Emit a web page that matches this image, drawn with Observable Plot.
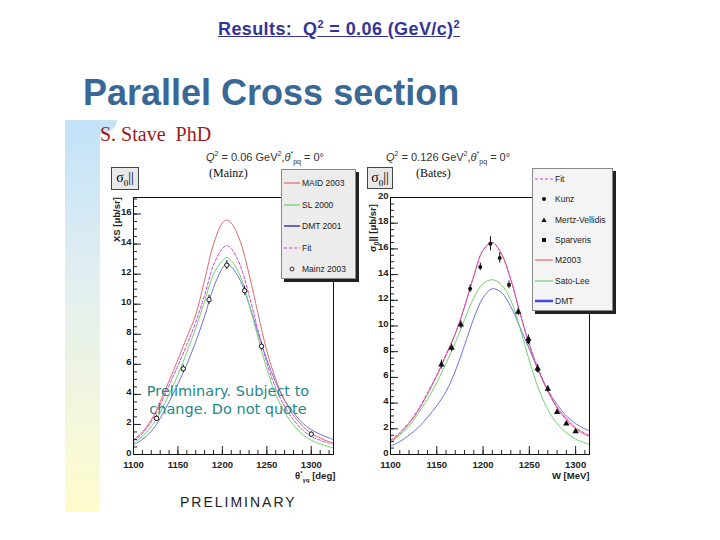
<!DOCTYPE html>
<html><head><meta charset="utf-8">
<script src="https://cdn.jsdelivr.net/npm/d3@7"></script>
<script src="https://cdn.jsdelivr.net/npm/@observablehq/plot@0.6"></script>
<style>
body{margin:0;background:#fff;}
#slide{position:relative;width:720px;height:540px;overflow:hidden;font-family:"Liberation Sans",Arial,sans-serif;background:#fff;}
.abs{position:absolute;white-space:nowrap;line-height:1;}
.leg{position:absolute;background:#ececec;border:1px solid #888;box-shadow:3px 3px 0 #222;}
.row{position:absolute;left:0;font-size:8.5px;color:#222;display:flex;align-items:center;}
.row svg{margin-right:2px;}
.sig{position:absolute;background:#e8e8e8;border:1px solid #444;font-family:"Liberation Serif",serif;font-size:14px;text-align:center;line-height:20px;}
.plotbox{position:absolute;}
</style></head><body><div id="slide">
<div class="abs" style="left:65px;top:120px;width:35px;height:392px;background:linear-gradient(#c2e2f8,#e4f0ef 45%,#fffccc);"></div>
<div class="abs" style="left:99px;top:120px;width:18px;height:14px;background:#c4e3f8;border-bottom-right-radius:100% 100%;"></div>
<div class="abs" style="left:218px;top:19px;font-size:18px;font-weight:bold;letter-spacing:0.4px;color:#333399;text-decoration:underline;">Results:&nbsp; Q<sup style="font-size:11px">2</sup> = 0.06 (GeV/c)<sup style="font-size:11px">2</sup></div>
<div class="abs" style="left:83px;top:75px;font-size:36px;font-weight:bold;color:#3a6896;">Parallel Cross section</div>
<div class="abs" style="left:100px;top:124px;font-size:20px;font-family:'Liberation Serif',serif;color:#9b1b1b;">S. Stave&nbsp; PhD</div>
<div class="abs" style="left:206px;top:150px;font-size:11px;color:#333;"><i>Q</i><sup style="font-size:7px">2</sup> = 0.06 GeV<sup style="font-size:7px">2</sup>,<i>θ</i><sup style="font-size:7px">*</sup><sub style="font-size:7px">pq</sub> = 0°</div>
<div class="abs" style="left:386px;top:150px;font-size:11px;color:#333;"><i>Q</i><sup style="font-size:7px">2</sup> = 0.126 GeV<sup style="font-size:7px">2</sup>,<i>θ</i><sup style="font-size:7px">*</sup><sub style="font-size:7px">pq</sub> = 0°</div>
<div class="abs" style="left:209px;top:167px;font-size:12px;font-family:'Liberation Serif',serif;color:#111;">(Mainz)</div>
<div class="abs" style="left:416px;top:167px;font-size:12px;font-family:'Liberation Serif',serif;color:#111;">(Bates)</div>
<div class="sig" style="left:111px;top:167px;width:26px;height:21px;">σ<sub style="font-size:9px">0</sub>||</div>
<div class="sig" style="left:367px;top:167px;width:24px;height:20px;">σ<sub style="font-size:9px">0</sub>||</div>
<div id="left" class="plotbox" style="left:100px;top:190px;"></div>
<div id="right" class="plotbox" style="left:357px;top:190px;"></div>
<div class="abs" style="left:112px;top:242px;font-size:9.5px;font-weight:bold;transform:rotate(-90deg);transform-origin:0 0;color:#222;">XS [μb/sr]</div>
<div class="abs" style="left:368px;top:252px;font-size:9.5px;font-weight:bold;transform:rotate(-90deg);transform-origin:0 0;color:#222;">σ<sub style="font-size:7px">0</sub>|| [μb/sr]</div>
<div class="abs" style="left:295px;top:470px;font-size:9.5px;font-weight:bold;color:#222;">θ<sup style="font-size:6px">*</sup><sub style="font-size:6px">γq</sub> [deg]</div>
<div class="abs" style="left:552px;top:471px;font-size:9.5px;font-weight:bold;color:#222;">W [MeV]</div>
<div class="abs" style="left:118px;top:382px;width:220px;text-align:center;font-size:14.5px;line-height:18px;font-family:'DejaVu Sans',sans-serif;color:#1f8888;">Preliminary. Subject to<br>change. Do not quote</div>
<div class="abs" style="left:180px;top:495px;font-size:14px;letter-spacing:2px;color:#222;">PRELIMINARY</div>
<div id="legL" class="leg" style="left:281px;top:169px;width:73px;height:108px;"></div>
<div id="legR" class="leg" style="left:532px;top:168px;width:79px;height:141px;background:#f4f4f4;"></div>
</div>
<script>
// ---- Left panel (Mainz), Q2 = 0.06 ----
const leftW = [1100,1110,1120,1130,1140,1150,1160,1170,1180,1190,1200,1205,1210,1220,1230,1240,1250,1260,1270,1280,1290,1300,1310,1320,1325];
const maid2003 = [0.95,1.5,2.3,3.5,4.9,6.3,7.8,9.3,11.6,14.0,15.4,15.6,15.4,14.2,12.0,9.4,6.9,5.0,3.6,2.6,1.9,1.4,1.1,0.85,0.78];
const sl2000 = [0.75,1.2,1.85,2.8,4.0,5.3,6.8,8.4,10.2,12.0,12.9,13.1,12.9,11.9,10.0,7.8,5.7,4.0,2.8,1.95,1.35,0.95,0.7,0.52,0.45];
const dmt2001 = [0.65,1.0,1.55,2.4,3.5,4.7,6.0,7.5,9.2,11.1,12.4,12.7,12.5,11.6,10.0,8.1,6.3,4.8,3.6,2.8,2.1,1.65,1.35,1.1,1.0];
const fitLeft = [0.9,1.4,2.2,3.3,4.6,5.9,7.3,8.8,10.6,12.6,13.7,13.9,13.7,12.6,10.6,8.3,6.1,4.4,3.2,2.3,1.65,1.2,0.95,0.75,0.68];
const mainzW = [1126,1156,1185,1205,1225,1244,1300];
const mainzXS = [2.4,5.7,10.3,12.6,10.9,7.2,1.35];
const mainzErr = [0.2,0.25,0.3,0.3,0.3,0.25,0.15];
const leftXTicks = [1100,1150,1200,1250,1300];
const leftYTicks = [0,2,4,6,8,10,12,14,16];

// ---- Right panel (Bates), Q2 = 0.126 ----
const rightW = [1100,1110,1120,1130,1140,1150,1160,1170,1180,1190,1200,1210,1220,1230,1240,1250,1260,1270,1280,1290,1300,1310,1315];
const fitRight = [1.1,1.7,2.5,3.5,4.8,6.2,7.8,9.4,11.5,13.9,15.9,16.5,15.6,13.6,11.0,8.6,6.6,5.0,3.7,2.8,2.1,1.65,1.5];
const m2003 = [1.0,1.6,2.4,3.4,4.7,6.1,7.7,9.4,11.5,13.9,15.9,16.5,15.6,13.6,11.0,8.5,6.5,4.9,3.6,2.7,2.0,1.55,1.4];
const satoLee = [0.95,1.5,2.2,3.2,4.3,5.6,7.1,8.7,10.5,12.2,13.3,13.6,13.2,12.0,9.8,7.3,5.1,3.5,2.4,1.7,1.2,0.9,0.78];
const dmtRight = [0.65,1.0,1.5,2.1,2.9,3.8,4.9,6.5,8.5,10.6,12.2,12.9,12.6,11.5,9.9,8.2,6.5,5.0,3.9,3.0,2.4,2.0,1.85];
const kunzW = [1186,1197,1208,1218];
const kunzXS = [12.9,14.6,16.4,15.3];
const kunzErr = [0.3,0.3,0.55,0.4];
const mertzW = [1155,1166,1176,1238,1249,1259,1270,1280,1290,1300];
const mertzXS = [7.0,8.3,10.1,11.1,9.0,6.7,5.1,3.3,2.4,1.8];
const mertzErr = [0.35,0.3,0.3,0.3,0.3,0.3,0.25,0.15,0.15,0.12];
const sparW = [1228,1249,1259];
const sparXS = [13.2,8.8,6.6];
const sparErr = [0.3,0.25,0.25];
const rightXTicks = [1100,1150,1200,1250,1300];
const rightYTicks = [0,2,4,6,8,10,12,14,16,18,20];

const C = {red:"#e06a6a", green:"#6fd36f", blue:"#6b74d8", magenta:"#d23cd2", navy:"#141478"};

const leftRows = leftW.map((w,i)=>({W:w, MAID:maid2003[i], SL:sl2000[i], DMT:dmt2001[i], Fit:fitLeft[i]}));
const mainzRows = mainzW.map((w,i)=>({W:w, v:mainzXS[i], e:mainzErr[i]}));
const rightRows = rightW.map((w,i)=>({W:w, Fit:fitRight[i], M:m2003[i], SL:satoLee[i], DMT:dmtRight[i]}));
const mk = (W,V,E)=>W.map((w,i)=>({W:w, v:V[i], e:E[i]}));
const kunzRows = mk(kunzW,kunzXS,kunzErr), mertzRows = mk(mertzW,mertzXS,mertzErr), sparRows = mk(sparW,sparXS,sparErr);

function axes(xMajor, xDom, yMajor, yMax){
  const xMinor = d3.range(xDom[0], xDom[1]+0.01, 10);
  const yMinor = d3.range(0, yMax+0.01, 0.5);
  const blank = ()=>"";
  const fmt = d3.format("d");
  return [
    Plot.axisX(xMinor,{tickSize:-4, tickFormat:blank, label:null}),
    Plot.axisX(xMajor,{tickSize:-8, tickFormat:blank, label:null}),
    Plot.axisX(xMajor,{tickSize:0, tickPadding:7, tickFormat:fmt, label:null}),
    Plot.axisY(yMinor,{tickSize:-4, tickFormat:blank, label:null}),
    Plot.axisY(yMajor,{tickSize:-8, tickFormat:blank, label:null}),
    Plot.axisY(yMajor,{tickSize:0, tickPadding:2, dy:-2, tickFormat:fmt, label:null}),
    Plot.frame({stroke:"#111"})
  ];
}
const common = {width:250, height:300, marginLeft:33, marginTop:7, marginBottom:36,
  style:{background:"transparent", fontFamily:"Liberation Sans, Arial, sans-serif", fontSize:"9.5px", fontWeight:"bold", color:"#222"}};

const leftPlot = Plot.plot({
  ...common, marginRight:17,
  x:{domain:[1100,1325], label:null}, y:{domain:[0,17.1], label:null},
  marks:[
    Plot.line(leftRows,{x:"W", y:"DMT", stroke:C.blue, strokeWidth:1, curve:"catmull-rom"}),
    Plot.line(leftRows,{x:"W", y:"SL", stroke:C.green, strokeWidth:1, curve:"catmull-rom"}),
    Plot.line(leftRows,{x:"W", y:"MAID", stroke:C.red, strokeWidth:1, curve:"catmull-rom"}),
    Plot.line(leftRows,{x:"W", y:"Fit", stroke:C.magenta, strokeWidth:1, strokeDasharray:"3,2", curve:"catmull-rom"}),
    Plot.ruleX(mainzRows,{x:"W", y1:d=>d.v-d.e, y2:d=>d.v+d.e, stroke:"#111"}),
    Plot.dot(mainzRows,{x:"W", y:"v", r:2.2, stroke:"#111", strokeWidth:1, fill:"white"}),
    ...axes(leftXTicks,[1100,1325],leftYTicks,17)
  ]
});
document.getElementById("left").appendChild(leftPlot);

const rightPlot = Plot.plot({
  ...common, marginRight:18,
  x:{domain:[1100,1315], label:null}, y:{domain:[0,20], label:null},
  marks:[
    Plot.line(rightRows,{x:"W", y:"DMT", stroke:C.blue, strokeWidth:1, curve:"catmull-rom"}),
    Plot.line(rightRows,{x:"W", y:"SL", stroke:C.green, strokeWidth:1, curve:"catmull-rom"}),
    Plot.line(rightRows,{x:"W", y:"M", stroke:C.red, strokeWidth:1, curve:"catmull-rom"}),
    Plot.line(rightRows,{x:"W", y:"Fit", stroke:C.magenta, strokeWidth:1, strokeDasharray:"3,2", curve:"catmull-rom"}),
    Plot.ruleX([...kunzRows,...mertzRows,...sparRows],{x:"W", y1:d=>d.v-d.e, y2:d=>d.v+d.e, stroke:"#111"}),
    Plot.dot(kunzRows,{x:"W", y:"v", r:2, fill:"#111"}),
    Plot.dot(mertzRows,{x:"W", y:"v", r:2.4, symbol:"triangle", fill:"#111"}),
    Plot.dot(sparRows,{x:"W", y:"v", r:2, symbol:"square", fill:"#111"}),
    ...axes(rightXTicks,[1100,1315],rightYTicks,20)
  ]
});
document.getElementById("right").appendChild(rightPlot);

// ---- Legends ----
const legendLeft = [
  {label:"MAID 2003", kind:"line", color:C.red},
  {label:"SL 2000", kind:"line", color:C.green},
  {label:"DMT 2001", kind:"line", color:C.navy},
  {label:"Fit", kind:"dash", color:C.magenta},
  {label:"Mainz 2003", kind:"circle", color:"#333"}
];
const legendRight = [
  {label:"Fit", kind:"dash", color:C.magenta},
  {label:"Kunz", kind:"dot", color:"#111"},
  {label:"Mertz-Vellidis", kind:"tri", color:"#111"},
  {label:"Sparveris", kind:"sq", color:"#111"},
  {label:"M2003", kind:"line", color:C.red},
  {label:"Sato-Lee", kind:"line", color:C.green},
  {label:"DMT", kind:"thick", color:"#4a4ae0"}
];
function swatch(it, w){
  const m = w/2;
  switch(it.kind){
    case "line": return `<line x1="0" x2="${w}" y1="5" y2="5" stroke="${it.color}" stroke-width="1.2"/>`;
    case "thick": return `<line x1="0" x2="${w}" y1="5" y2="5" stroke="${it.color}" stroke-width="2.5"/>`;
    case "dash": return `<line x1="0" x2="${w}" y1="5" y2="5" stroke="${it.color}" stroke-width="1.2" stroke-dasharray="3,2"/>`;
    case "circle": return `<circle cx="${m}" cy="5" r="2" fill="none" stroke="${it.color}"/>`;
    case "dot": return `<circle cx="${m}" cy="5" r="2" fill="${it.color}"/>`;
    case "tri": return `<path d="M${m},2.5 L${m+2.6},7 L${m-2.6},7 Z" fill="${it.color}"/>`;
    case "sq": return `<rect x="${m-2}" y="3" width="4" height="4" fill="${it.color}"/>`;
  }
}
function buildLegend(id, items, pad, step, sw){
  const el = document.getElementById(id);
  items.forEach((it,i)=>{
    const r = document.createElement("div");
    r.className = "row";
    r.style.left = "2px";
    r.style.top = (pad + i*step) + "px";
    r.innerHTML = `<svg width="${sw}" height="10">${swatch(it, sw)}</svg><span>${it.label}</span>`;
    el.appendChild(r);
  });
}
buildLegend("legL", legendLeft, 8, 21.5, 16);
buildLegend("legR", legendRight, 5, 20.3, 18);
</script>
</body></html>
